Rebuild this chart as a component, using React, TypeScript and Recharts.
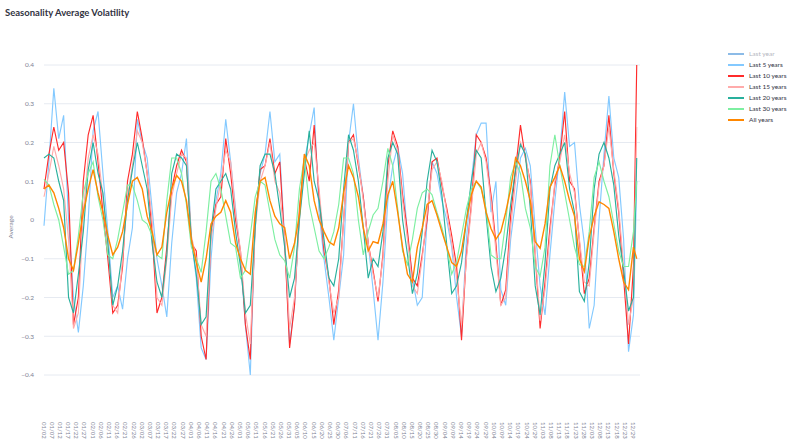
import { LineChart, Line, XAxis, YAxis, CartesianGrid, Legend } from "recharts";

const FONT = "Lato, 'Noto Sans', sans-serif";
const AXIS_GREY = "#808495";

// x tick labels: every 5th trading day (01/01, 07/04, 12/25 absent)
const TICK_LABELS = [
  "01/02", "01/07", "01/12", "01/17", "01/22", "01/27",
  "02/01", "02/06", "02/11", "02/16", "02/21", "02/26",
  "03/02", "03/07", "03/12", "03/17", "03/22", "03/27",
  "04/01", "04/06", "04/11", "04/16", "04/21", "04/26",
  "05/01", "05/06", "05/11", "05/16", "05/21", "05/26", "05/31",
  "06/05", "06/10", "06/15", "06/20", "06/25", "06/30",
  "07/06", "07/11", "07/16", "07/21", "07/26", "07/31",
  "08/05", "08/10", "08/15", "08/20", "08/25", "08/30",
  "09/04", "09/09", "09/14", "09/19", "09/24", "09/29",
  "10/04", "10/09", "10/14", "10/19", "10/24", "10/29",
  "11/03", "11/08", "11/13", "11/18", "11/23", "11/28",
  "12/03", "12/08", "12/13", "12/18", "12/23", "12/29",
];

const Y_TICKS = [-0.4, -0.3, -0.2, -0.1, 0, 0.1, 0.2, 0.3, 0.4];

// values sampled every 3rd trading day, last one is the final day
const LAST_5 = [
  -0.015, 0.15, 0.34, 0.21, 0.27, 0.0, -0.2, -0.29, -0.17, 0.0,
  0.23, 0.28, 0.12, -0.03, -0.2, -0.17, -0.23, -0.1, -0.02, 0.26,
  0.2, 0.16, 0.03, -0.1, -0.17, -0.25, -0.06, 0.07, 0.12, 0.21,
  -0.05, -0.15, -0.33, -0.36, -0.1, 0.05, 0.12, 0.26, 0.15, 0.03,
  -0.1, -0.27, -0.4, 0.0, 0.12, 0.17, 0.28, 0.15, 0.17, -0.05,
  -0.32, -0.22, 0.01, 0.15, 0.22, 0.29, 0.02, -0.1, -0.2, -0.31,
  -0.2, -0.09, 0.2, 0.3, 0.16, 0.06, -0.06, -0.18, -0.31, -0.16,
  0.05, 0.14, 0.19, 0.12, -0.04, -0.15, -0.22, -0.2, 0.0, 0.15,
  0.12, 0.05, 0.0, -0.07, -0.2, -0.3, -0.05, 0.1, 0.22, 0.25,
  0.25, 0.02, 0.1, -0.18, -0.22, -0.05, 0.05, 0.16, 0.185, 0.14,
  -0.02, -0.17, -0.245, -0.09, 0.05, 0.17, 0.33, 0.19, 0.2, 0.04,
  -0.06, -0.28, -0.22, 0.0, 0.17, 0.32, 0.16, 0.11, -0.05, -0.34,
  -0.245, 0.1,
];

const LAST_10 = [
  0.08, 0.17, 0.24, 0.18, 0.2, 0.07, -0.27, -0.2, 0.1, 0.22,
  0.27, 0.15, 0.02, -0.1, -0.24, -0.22, -0.12, 0.1, 0.17, 0.28,
  0.21, 0.12, -0.03, -0.24, -0.2, -0.07, 0.08, 0.14, 0.18, 0.15,
  -0.06, -0.08, -0.3, -0.36, -0.03, 0.04, 0.06, 0.21, 0.12, 0.0,
  -0.08, -0.27, -0.36, 0.0, 0.13, 0.14, 0.21, 0.12, 0.15, -0.06,
  -0.33, -0.22, 0.03, 0.16, 0.1, 0.245, 0.06, -0.08, -0.15, -0.27,
  -0.18, 0.0, 0.2, 0.22, 0.14, 0.06, -0.06, -0.13, -0.21, -0.09,
  0.14, 0.23, 0.19, 0.065, -0.03, -0.15, -0.17, -0.09, 0.0, 0.15,
  0.16, 0.09, 0.03, -0.04, -0.12, -0.31, -0.09, 0.04, 0.22, 0.2,
  0.16, 0.065, -0.06, -0.22, -0.18, 0.01, 0.13, 0.245, 0.16, 0.1,
  -0.09, -0.28, -0.16, -0.02, 0.09, 0.16, 0.28, 0.1, 0.08, -0.056,
  -0.19, -0.15, -0.02, 0.1, 0.14, 0.27, 0.12, 0.02, -0.15, -0.32,
  -0.12, 0.4,
];

const LAST_15 = [
  0.06, 0.12, 0.19, 0.14, 0.08, -0.05, -0.28, -0.24, 0.02, 0.16,
  0.22, 0.17, 0.06, -0.06, -0.22, -0.24, -0.1, 0.06, 0.14, 0.23,
  0.2, 0.12, 0.0, -0.2, -0.22, -0.1, 0.06, 0.12, 0.17, 0.16,
  -0.04, -0.1, -0.27, -0.3, -0.05, 0.03, 0.1, 0.18, 0.15, 0.02,
  -0.08, -0.24, -0.32, -0.02, 0.1, 0.14, 0.2, 0.1, 0.07, -0.05,
  -0.28, -0.2, 0.0, 0.15, 0.18, 0.2, 0.08, -0.06, -0.16, -0.24,
  -0.2, 0.0, 0.2, 0.21, 0.15, 0.05, -0.06, -0.14, -0.2, -0.1,
  0.1, 0.22, 0.18, 0.05, -0.05, -0.17, -0.19, -0.1, 0.02, 0.13,
  0.15, 0.1, 0.02, -0.06, -0.15, -0.27, -0.1, 0.03, 0.17, 0.2,
  0.15, 0.05, -0.08, -0.22, -0.2, -0.02, 0.1, 0.2, 0.17, 0.09,
  -0.08, -0.26, -0.18, -0.04, 0.1, 0.15, 0.22, 0.12, 0.07, -0.05,
  -0.16, -0.17, -0.03, 0.09, 0.14, 0.24, 0.13, 0.03, -0.12, -0.27,
  -0.2, 0.24,
];

const LAST_20 = [
  0.16, 0.17, 0.16, 0.1, 0.05, -0.2, -0.24, -0.14, -0.03, 0.13,
  0.2, 0.12, 0.07, -0.06, -0.22, -0.17, -0.08, 0.05, 0.13, 0.2,
  0.14, 0.08, -0.06, -0.16, -0.2, -0.09, 0.12, 0.17, 0.16, 0.14,
  -0.05, -0.14, -0.27, -0.25, -0.03, 0.08, 0.1, 0.12, 0.08, -0.03,
  -0.12, -0.24, -0.22, -0.02, 0.14, 0.17, 0.17, 0.12, 0.03, -0.07,
  -0.2, -0.15, 0.0, 0.12, 0.23, 0.1, 0.05, -0.05, -0.15, -0.17,
  -0.1, 0.08, 0.22, 0.18, 0.1, -0.02, -0.15, -0.1, -0.12, -0.03,
  0.16, 0.2, 0.17, 0.0, -0.09, -0.19, -0.14, -0.03, 0.1, 0.18,
  0.15, 0.065, -0.065, -0.19, -0.17, -0.11, 0.0, 0.1, 0.18, 0.16,
  0.013, -0.12, -0.185, -0.15, -0.07, 0.04, 0.13, 0.195, 0.17, 0.03,
  -0.17, -0.245, -0.11, 0.08, 0.14, 0.17, 0.2, 0.08, 0.02, -0.185,
  -0.21, -0.11, 0.08, 0.17, 0.2, 0.16, 0.09, -0.04, -0.13, -0.235,
  -0.2, 0.16,
];

const LAST_30 = [
  0.105, 0.09, 0.04, 0.0, -0.07, -0.14, -0.13, -0.04, 0.07, 0.12,
  0.15, 0.06, 0.0, -0.09, -0.1, -0.05, 0.02, 0.09, 0.09, 0.05,
  0.0, -0.01, -0.04, -0.09, -0.1, 0.05, 0.16, 0.16, 0.12, 0.04,
  -0.07, -0.1, -0.135, -0.03, 0.1, 0.12, 0.08, 0.01, -0.06, -0.07,
  -0.15, -0.13, -0.04, 0.06, 0.1, 0.09, 0.02, -0.05, -0.09, -0.105,
  -0.15, -0.07, 0.08, 0.16, 0.04, -0.02, -0.08, -0.1, -0.07, -0.03,
  0.04, 0.16, 0.16, 0.12, 0.0, -0.09, -0.03, 0.013, 0.03, 0.1,
  0.185, 0.14, 0.03, -0.08, -0.115, -0.05, 0.03, 0.07, 0.08, 0.065,
  0.02, -0.02, -0.07, -0.14, -0.108, -0.04, 0.03, 0.08, 0.1, 0.08,
  0.03, -0.09, -0.1, -0.1, -0.004, 0.11, 0.15, 0.12, 0.03, -0.02,
  -0.12, -0.145, -0.07, 0.14, 0.22, 0.14, 0.07, 0.0, -0.07, -0.115,
  -0.12, -0.03, 0.11, 0.15, 0.1, 0.06, -0.01, -0.08, -0.12, -0.12,
  -0.03, 0.1,
];

const ALL_YEARS = [
  0.08, 0.09, 0.07, 0.03, -0.02, -0.1, -0.13, -0.06, 0.02, 0.08,
  0.13, 0.07, 0.02, -0.04, -0.09, -0.07, -0.03, 0.04, 0.1, 0.11,
  0.08, 0.01, -0.03, -0.09, -0.07, 0.02, 0.08, 0.115, 0.1, 0.05,
  -0.05, -0.11, -0.16, -0.1, -0.01, 0.01, 0.02, 0.05, 0.02, -0.06,
  -0.1, -0.13, -0.14, 0.02, 0.1, 0.11, 0.05, 0.01, -0.01, -0.02,
  -0.1, -0.06, 0.013, 0.17, 0.14, 0.05, 0.0, -0.03, -0.056, -0.065,
  -0.02, 0.07, 0.14, 0.11, 0.06, -0.02, -0.08, -0.056, -0.06, -0.01,
  0.065, 0.1, 0.02, -0.07, -0.14, -0.16, -0.07, -0.02, 0.04, 0.05,
  0.013, -0.03, -0.07, -0.11, -0.12, -0.08, 0.0, 0.065, 0.1, 0.085,
  0.02, -0.022, -0.05, -0.03, 0.02, 0.08, 0.16, 0.14, 0.1, 0.05,
  -0.056, -0.073, -0.01, 0.085, 0.11, 0.14, 0.1, 0.05, 0.01, -0.1,
  -0.133, -0.045, 0.01, 0.047, 0.04, 0.03, -0.03, -0.1, -0.16, -0.18,
  -0.07, -0.1,
];

const SERIES = [
  { key: "lastYear", name: "Last year", color: "#0068c9", hidden: true },
  { key: "last5", name: "Last 5 years", color: "#83c9ff" },
  { key: "last10", name: "Last 10 years", color: "#ff2b2b" },
  { key: "last15", name: "Last 15 years", color: "#ffabab" },
  { key: "last20", name: "Last 20 years", color: "#29b09d" },
  { key: "last30", name: "Last 30 years", color: "#7defa1" },
  { key: "allYears", name: "All years", color: "#ff8700" },
];

const LAST_DAY = 362;
const data = LAST_5.map((_, i) => ({
  day: Math.min(i * 3, LAST_DAY),
  last5: LAST_5[i],
  last10: LAST_10[i],
  last15: LAST_15[i],
  last20: LAST_20[i],
  last30: LAST_30[i],
  allYears: ALL_YEARS[i],
}));

// vertical date labels, reading downwards, starting well below the plot
function DateTick({ x, payload }: any) {
  return (
    <text
      transform={`translate(${x},422) rotate(90)`}
      textAnchor="start"
      dominantBaseline="central"
      fontSize={6}
      fontFamily={FONT}
      fill={AXIS_GREY}
    >
      {TICK_LABELS[Math.round(payload.value / 5)]}
    </text>
  );
}

function SeriesLegend() {
  return (
    <div style={{ fontFamily: FONT, fontSize: 6.5 }}>
      {SERIES.map((s) => (
        <div key={s.key} style={{ display: "flex", alignItems: "center", height: 11 }}>
          <span
            style={{
              display: "inline-block",
              width: 16,
              height: 2,
              marginRight: 5,
              background: s.color,
              opacity: s.hidden ? 0.45 : 1,
            }}
          />
          <span style={{ color: s.hidden ? "#b4b6c0" : "#31333f" }}>{s.name}</span>
        </div>
      ))}
    </div>
  );
}

export default function App() {
  return (
    <div style={{ position: "absolute", left: 0, top: 0, width: 800, height: 448, background: "#fff" }}>
      <div
        style={{
          position: "absolute",
          left: 5,
          top: 7,
          fontFamily: FONT,
          fontWeight: 700,
          fontSize: 9.5,
          lineHeight: "12px",
          color: "#31333f",
        }}
      >
        Seasonality Average Volatility
      </div>
      <LineChart width={800} height={448} data={data} margin={{ top: 65, right: 88, bottom: 0, left: 0 }}>
        <CartesianGrid vertical={false} stroke="#e6eaf1" />
        <XAxis
          type="number"
          dataKey="day"
          domain={[0, 364]}
          ticks={TICK_LABELS.map((_, i) => i * 5)}
          interval={0}
          tick={<DateTick />}
          tickLine={false}
          axisLine={false}
          height={73}
        />
        <YAxis
          type="number"
          domain={[-0.4, 0.4]}
          ticks={Y_TICKS}
          interval={0}
          width={44}
          tickLine={false}
          axisLine={false}
          tickMargin={4}
          tick={{ fontSize: 6.5, fill: AXIS_GREY, fontFamily: FONT }}
          tickFormatter={(v: number) => (v === 0 ? "0" : v.toFixed(1).replace("-", "\u2212"))}
          label={{
            content: () => (
              <text
                transform="translate(10,227) rotate(-90)"
                textAnchor="middle"
                dominantBaseline="central"
                fontSize={6.5}
                fontFamily={FONT}
                fill={AXIS_GREY}
              >
                Average
              </text>
            ),
          }}
        />
        <Legend
          layout="horizontal"
          verticalAlign="middle"
          align="right"
          content={<SeriesLegend />}
          wrapperStyle={{ left: 728, top: 48, width: 72 }}
        />
        {SERIES.filter((s) => !s.hidden).map((s) => (
          <Line
            key={s.key}
            type="linear"
            dataKey={s.key}
            name={s.name}
            stroke={s.color}
            strokeWidth={s.key === "allYears" ? 1.4 : 1.15}
            dot={false}
            isAnimationActive={false}
          />
        ))}
      </LineChart>
    </div>
  );
}
